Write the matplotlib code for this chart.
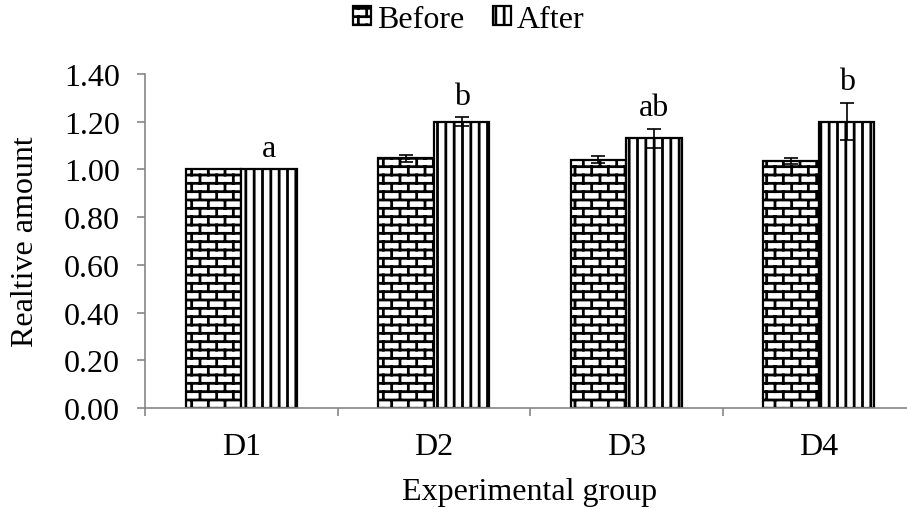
import warnings
import numpy as np
import matplotlib
matplotlib.use("Agg")
import matplotlib.pyplot as plt
import matplotlib.hatch as mhatch
from matplotlib.path import Path
from matplotlib.ticker import FixedLocator, NullFormatter

warnings.filterwarnings("ignore")

# ---- data -------------------------------------------------------------
groups = ["D1", "D2", "D3", "D4"]
before = [1.00, 1.047, 1.040, 1.034]
before_err = [0.0, 0.015, 0.015, 0.013]
after = [1.00, 1.20, 1.13, 1.20]
after_err = [0.0, 0.018, 0.040, 0.077]
sig_letters = ["a", "b", "ab", "b"]
series_names = ["Before", "After"]
y_ticks = [0.0, 0.2, 0.4, 0.6, 0.8, 1.0, 1.2, 1.4]


# ---- brick hatch pattern ('b') -----------------------------------------
class BrickHatch(mhatch.HatchPatternBase):
    def __init__(self, hatch, density):
        n = hatch.count("b")
        self.segments = []
        if n:
            rows = 12 * n
            cols = 6
            h = 1.0 / rows
            w = 1.0 / cols
            for r in range(rows + 1):
                y0 = r * h
                self.segments.append(((0.0, y0), (1.0, y0)))
                if r == rows:
                    break
                off = 0.0 if r % 2 == 0 else w / 2
                for c in range(cols + 1):
                    x = c * w + off
                    if x <= 1.0 + 1e-9:
                        self.segments.append(((x, y0), (x, y0 + h)))
        self.num_lines = len(self.segments)
        self.num_vertices = 2 * self.num_lines
        self.filled = False

    def set_vertices_and_codes(self, vertices, codes):
        for i, (p0, p1) in enumerate(self.segments):
            vertices[2 * i] = p0
            vertices[2 * i + 1] = p1
            codes[2 * i] = Path.MOVETO
            codes[2 * i + 1] = Path.LINETO


mhatch._hatch_types.append(BrickHatch)

# ---- style ------------------------------------------------------------
FS = 23
plt.rcParams["font.family"] = ["Liberation Serif", "DejaVu Serif"]
plt.rcParams["font.size"] = FS
plt.rcParams["hatch.linewidth"] = 2.0
plt.rcParams["hatch.color"] = "black"

fig = plt.figure(figsize=(9.07, 5.10), dpi=100)
AX_W, AX_H = 770, 334
ax = fig.add_axes([145 / 907, 101 / 510, AX_W / 907, AX_H / 510])

x = np.arange(len(groups))
bw = 0.289
err_kw = dict(ecolor="black", elinewidth=1.2, capsize=5, capthick=1.2)

b1 = ax.bar(x - bw / 2, before, bw, yerr=before_err, color="white",
            edgecolor="black", linewidth=1.6, hatch="b", label=series_names[0],
            error_kw=err_kw)
b2 = ax.bar(x + bw / 2, after, bw, yerr=after_err, color="white",
            edgecolor="black", linewidth=1.6, hatch="||", label=series_names[1],
            error_kw=err_kw)

for xi, v, e, s in zip(x, after, after_err, sig_letters):
    ax.annotate(s, (xi + bw / 2, v + e), xytext=(0, 10), textcoords="offset points",
                ha="center", va="baseline", fontsize=FS)

ax.set_xlim(-0.5, len(groups) - 0.5)
ax.set_ylim(0, 1.4)
ax.set_yticks(y_ticks)
ax.set_yticklabels([f"{t:.2f}" for t in y_ticks])
ax.set_xticks(x)
ax.set_xticklabels(groups)
ax.xaxis.set_minor_locator(FixedLocator(np.arange(len(groups) + 1) - 0.5))
ax.xaxis.set_minor_formatter(NullFormatter())

for side in ("top", "right"):
    ax.spines[side].set_visible(False)
for side in ("left", "bottom"):
    ax.spines[side].set_color("#868686")
    ax.spines[side].set_linewidth(1.2)

ax.tick_params(axis="y", which="major", direction="out", length=6, width=1.2,
               color="#868686", pad=12)
ax.tick_params(axis="x", which="major", length=0, pad=17)
ax.tick_params(axis="x", which="minor", direction="out", length=6, width=1.2,
               color="#868686")

ax.set_ylabel("Realtive amount", fontsize=FS, va="center")
ax.set_xlabel("Experimental group", fontsize=FS, va="center")
ax.yaxis.set_label_coords(-120 / AX_W, 0.5)
ax.xaxis.set_label_coords(0.5, -84 / AX_H)

fig.legend(handles=[b1, b2], loc="center", bbox_to_anchor=(0.517, 1 - 20 / 510),
           ncol=2, frameon=False, fontsize=FS, handlelength=0.55,
           handleheight=0.55, handletextpad=0.2, columnspacing=0.9)

fig.savefig("out.png", dpi=100)
